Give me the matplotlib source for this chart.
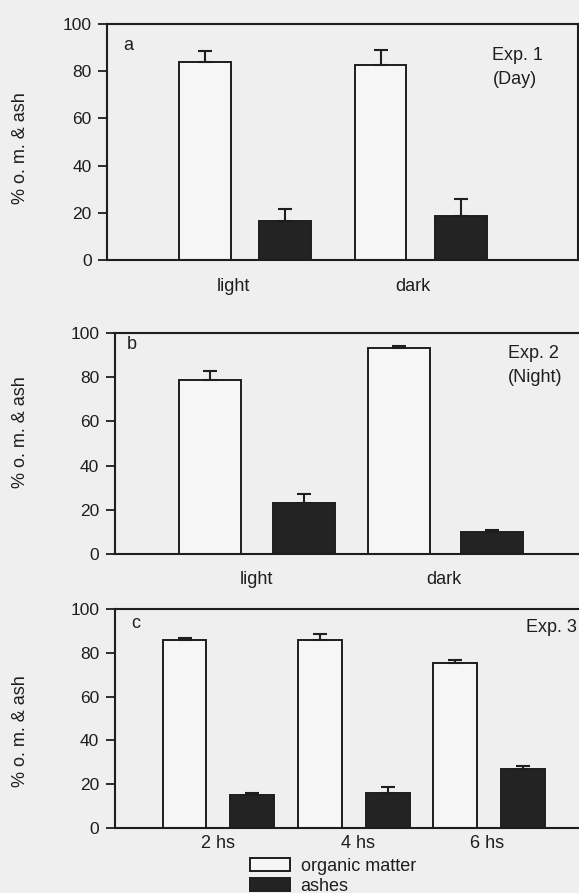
import matplotlib
matplotlib.use("Agg")
import matplotlib.pyplot as plt
from matplotlib.patches import Patch

plt.rcParams["font.family"] = ["Liberation Sans", "DejaVu Sans"]
plt.rcParams["font.size"] = 13

# data (mean, upper error)
cats_a = ["light", "dark"]
org_a = [83.9, 82.5]
org_a_err = [4.7, 6.6]
ash_a = [16.5, 18.8]
ash_a_err = [5.0, 6.9]

cats_b = ["light", "dark"]
org_b = [78.7, 93.2]
org_b_err = [4.3, 0.9]
ash_b = [23.2, 10.0]
ash_b_err = [4.1, 0.7]

cats_c = ["2 hs", "4 hs", "6 hs"]
org_c = [86.0, 86.0, 75.5]
org_c_err = [0.6, 2.8, 1.1]
ash_c = [15.0, 16.0, 27.1]
ash_c_err = [0.8, 2.7, 1.0]

W, H = 579, 893
bg = "#efefef"
dark = "#232323"
light = "#f6f6f6"
ink = "#1e1e1e"

fig = plt.figure(figsize=(W / 100, H / 100), dpi=100, facecolor=bg)


def px_axes(left, top, right, bottom):
    return fig.add_axes([left / W, 1 - bottom / H, (right - left) / W, (bottom - top) / H])


def panel(ax, org, org_err, ash, ash_err, width, off, xlim, right_spine):
    ax.set_facecolor(bg)
    x = list(range(len(org)))
    xo = [i - off for i in x]
    xa = [i + off for i in x]
    ax.bar(xo, org, width, color=light, edgecolor=ink, linewidth=1.4, zorder=2)
    ax.bar(xa, ash, width, color=dark, edgecolor=ink, linewidth=1.4, zorder=2)
    ax.errorbar(xo, org, yerr=[[0] * len(org), org_err], fmt="none", ecolor=ink,
                elinewidth=1.5, capsize=5, capthick=1.5, zorder=3)
    ax.errorbar(xa, ash, yerr=[[0] * len(ash), ash_err], fmt="none", ecolor=ink,
                elinewidth=1.5, capsize=5, capthick=1.5, zorder=3)
    ax.set_ylim(0, 100)
    ax.set_xlim(*xlim)
    ax.set_yticks([0, 20, 40, 60, 80, 100])
    ax.tick_params(axis="y", length=6.5, width=1.3, pad=4.5, labelsize=12.5, colors=ink)
    ax.set_xticks([])
    for s in ["left", "bottom", "top", "right"]:
        ax.spines[s].set_linewidth(1.5)
        ax.spines[s].set_color(ink)
    ax.spines["right"].set_visible(right_spine)


def cat_labels(ax, xs, labels, ypx_off, axh):
    for xx, lab in zip(xs, labels):
        ax.text(xx, -ypx_off / axh, lab, transform=ax.get_xaxis_transform(),
                ha="center", va="center", fontsize=13, color=ink)


# panel a
ax1 = px_axes(107, 24, 578, 260)
panel(ax1, org_a, org_a_err, ash_a, ash_a_err, 0.296, 0.228, (-0.786, 1.897), True)
cat_labels(ax1, [-0.068, 0.957], cats_a, 27, 236)

# panel b
ax2 = px_axes(114.5, 333, 582, 554)
panel(ax2, org_b, org_b_err, ash_b, ash_b_err, 0.329, 0.249, (-0.756, 1.724), False)
cat_labels(ax2, [-0.005, 0.992], cats_b, 26, 221)

# panel c
ax3 = px_axes(114.5, 609, 582, 828)
panel(ax3, org_c, org_c_err, ash_c, ash_c_err, 0.325, 0.251, (-0.769, 2.689), False)
cat_labels(ax3, [0.0, 1.03, 1.99], cats_c, 15, 219)


def ftext(x, y, s, **kw):
    fig.text(x / W, 1 - y / H, s, color=ink, fontsize=13, va="center", **kw)


for yc in [148, 432, 731]:
    ftext(21, yc, "% o. m. & ash", rotation=90, ha="center")

ftext(128, 46, "a", ha="center")
ftext(132, 345, "b", ha="center")
ftext(135.5, 623, "c", ha="center")
ftext(492, 55, "Exp. 1", ha="left")
ftext(493, 80, "(Day)", ha="left")
ftext(508, 353, "Exp. 2", ha="left")
ftext(508, 377, "(Night)", ha="left")
ftext(526, 628, "Exp. 3", ha="left")

handles = [Patch(facecolor=light, edgecolor=ink, linewidth=1.4),
           Patch(facecolor=dark, edgecolor=ink, linewidth=1.4)]
fig.legend(handles, ["organic matter", "ashes"], loc="upper left",
           bbox_to_anchor=(250 / W, 1 - 858 / H), frameon=False, fontsize=13,
           handlelength=2.2, handleheight=0.75, handletextpad=0.6,
           labelspacing=0.15, borderpad=0, borderaxespad=0, labelcolor=ink)

fig.savefig("out.png", dpi=100, facecolor=bg)
